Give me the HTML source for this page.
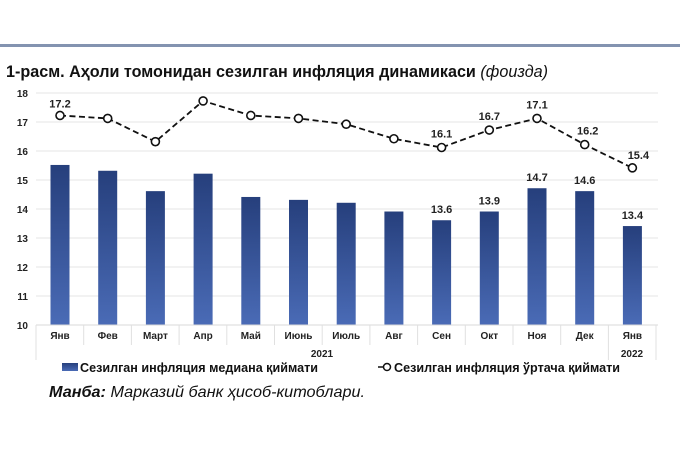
<!DOCTYPE html>
<html><head><meta charset="utf-8"><style>
body{margin:0;background:#fff;width:680px;height:453px;overflow:hidden;font-family:"Liberation Sans",sans-serif;}
</style></head><body>
<svg width="680" height="453" xmlns="http://www.w3.org/2000/svg" font-family="Liberation Sans, sans-serif">
<defs><linearGradient id="g" x1="0" y1="0" x2="0" y2="1"><stop offset="0" stop-color="#263f7c"/><stop offset="1" stop-color="#4a6bb6"/></linearGradient></defs>
<rect x="0" y="44" width="680" height="3" fill="#8393b0"/>
<text x="6" y="77" font-size="17" font-weight="bold" fill="#111" textLength="542" lengthAdjust="spacingAndGlyphs">1-расм. Аҳоли томонидан сезилган инфляция динамикаси <tspan font-weight="normal" font-style="italic">(фоизда)</tspan></text>
<g stroke="#e4e4e4" stroke-width="1">
<line x1="36" y1="93" x2="658" y2="93"/><line x1="36" y1="122" x2="658" y2="122"/><line x1="36" y1="151" x2="658" y2="151"/><line x1="36" y1="180" x2="658" y2="180"/><line x1="36" y1="209" x2="658" y2="209"/><line x1="36" y1="238" x2="658" y2="238"/><line x1="36" y1="267" x2="658" y2="267"/><line x1="36" y1="296" x2="658" y2="296"/>
</g>
<g font-size="10" font-weight="bold" fill="#222" text-anchor="end">
<text x="28" y="97">18</text><text x="28" y="126">17</text><text x="28" y="155">16</text><text x="28" y="184">15</text><text x="28" y="213">14</text><text x="28" y="242">13</text><text x="28" y="271">12</text><text x="28" y="300">11</text><text x="28" y="329">10</text>
</g>
<g id="bars"></g>
<line x1="36" y1="325" x2="658" y2="325" stroke="#d8d8d8"/>
<g stroke="#e0e0e0">
<line x1="36" y1="325" x2="36" y2="360"/><line x1="83.7" y1="325" x2="83.7" y2="345"/><line x1="131.4" y1="325" x2="131.4" y2="345"/><line x1="179.1" y1="325" x2="179.1" y2="345"/><line x1="226.8" y1="325" x2="226.8" y2="345"/><line x1="274.5" y1="325" x2="274.5" y2="345"/><line x1="322.2" y1="325" x2="322.2" y2="345"/><line x1="369.9" y1="325" x2="369.9" y2="345"/><line x1="417.6" y1="325" x2="417.6" y2="345"/><line x1="465.3" y1="325" x2="465.3" y2="345"/><line x1="513" y1="325" x2="513" y2="345"/><line x1="560.7" y1="325" x2="560.7" y2="345"/><line x1="608.4" y1="325" x2="608.4" y2="360"/><line x1="656" y1="325" x2="656" y2="360"/>
</g>
<g font-size="10" font-weight="bold" fill="#222" text-anchor="middle" id="cats"></g>
<text x="322" y="357" font-size="10" font-weight="bold" fill="#222" text-anchor="middle">2021</text>
<text x="632" y="357" font-size="10" font-weight="bold" fill="#222" text-anchor="middle">2022</text>
<g id="line"></g>
<rect x="62" y="363" width="16" height="8" fill="url(#g)"/>
<text x="80" y="372" font-size="13" font-weight="bold" fill="#111" textLength="238" lengthAdjust="spacingAndGlyphs">Сезилган инфляция медиана қиймати</text>
<line x1="378" y1="367" x2="383" y2="367" stroke="#111" stroke-width="1.5"/>
<circle cx="387" cy="367" r="3.5" fill="#fff" stroke="#111" stroke-width="1.5"/>
<text x="394" y="372" font-size="13" font-weight="bold" fill="#111" textLength="226" lengthAdjust="spacingAndGlyphs">Сезилган инфляция ўртача қиймати</text>
<text x="49" y="397" font-size="16" font-style="italic" fill="#111" textLength="316" lengthAdjust="spacingAndGlyphs"><tspan font-weight="bold">Манба:</tspan> Марказий банк ҳисоб-китоблари.</text>
<script>
var ns="http://www.w3.org/2000/svg";
var cats=["Янв","Фев","Март","Апр","Май","Июнь","Июль","Авг","Сен","Окт","Ноя","Дек","Янв"];
var b=[15.5,15.3,14.6,15.2,14.4,14.3,14.2,13.9,13.6,13.9,14.7,14.6,13.4];
var l=[17.2,17.1,16.3,17.7,17.2,17.1,16.9,16.4,16.1,16.7,17.1,16.2,15.4];
function y(v){return 325-(v-10)*29.1;}
function el(t,a,p,tx){var e=document.createElementNS(ns,t);for(var k in a)e.setAttribute(k,a[k]);if(tx)e.textContent=tx;document.getElementById(p).appendChild(e);return e;}
var pts=[];
for(var i=0;i<13;i++){var cx=60+i*47.7;
el("rect",{x:cx-9.5,y:y(b[i]),width:19,height:325-y(b[i]),fill:"url(#g)"},"bars");
el("text",{x:cx,y:339},"cats",cats[i]);
pts.push(cx+","+y(l[i]).toFixed(1));}
[8,9,10,11,12].forEach(function(i){el("text",{x:60+i*47.7,y:y(b[i])-7,"font-size":11,"font-weight":"bold",fill:"#222","text-anchor":"middle"},"bars",b[i].toFixed(1));});
el("polyline",{points:pts.join(" "),fill:"none",stroke:"#111","stroke-width":1.8,"stroke-dasharray":"6,3.5"},"line");
for(var i=0;i<13;i++){var cx=60+i*47.7;el("circle",{cx:cx,cy:y(l[i]),r:4,fill:"#fff",stroke:"#111","stroke-width":1.6},"line");}
var lab={0:[0,-8],8:[0,-10],9:[0,-10],10:[0,-10],11:[3,-10],12:[6,-9]};
for(var k in lab){var i=+k;el("text",{x:60+i*47.7+lab[k][0],y:y(l[i])+lab[k][1],"font-size":11,"font-weight":"bold",fill:"#222","text-anchor":"middle"},"line",l[i].toFixed(1));}
</script>
</svg>
</body></html>
